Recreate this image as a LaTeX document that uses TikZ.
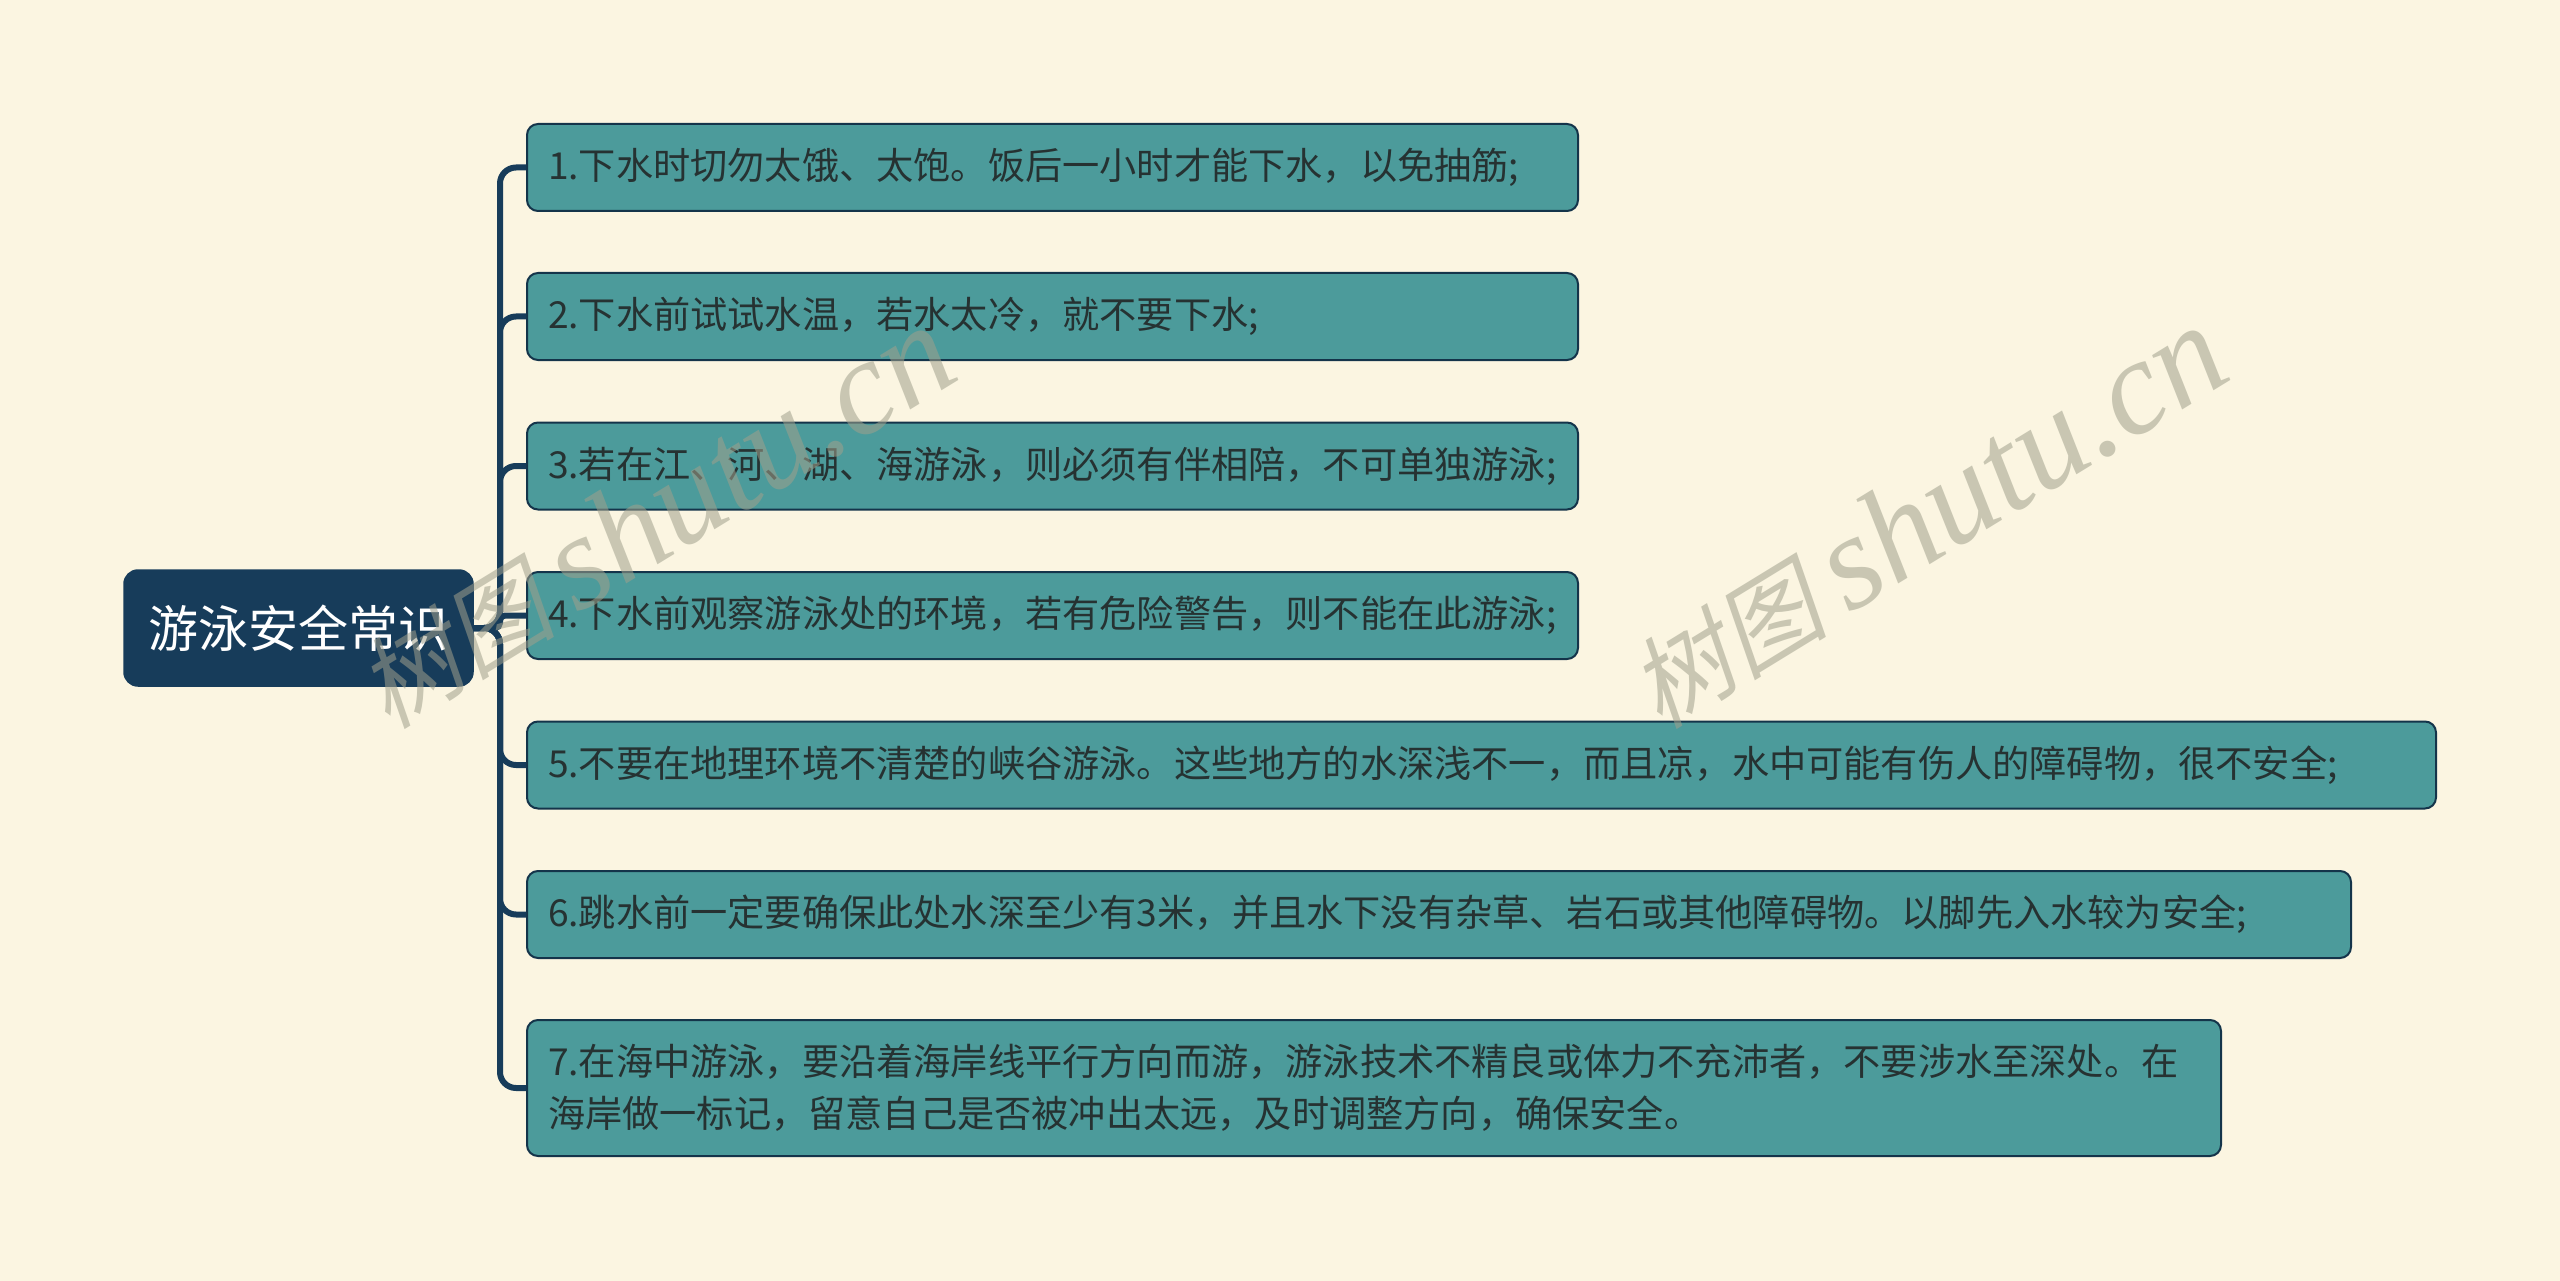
\documentclass[tikz,border=0pt]{standalone}
\usepackage{fontspec}
\setmainfont{Noto Sans CJK SC}
\newfontfamily\wmcjk[FakeSlant=0.22]{Noto Sans CJK SC}
\newfontfamily\wmlat{Liberation Serif Italic}
\definecolor{bg}{RGB}{251,245,225}
\definecolor{navy}{RGB}{23,60,90}
\definecolor{teal}{RGB}{76,155,155}
\definecolor{boxline}{RGB}{20,52,74}
\definecolor{txt}{RGB}{38,50,50}
\definecolor{wm}{RGB}{160,160,140}
\begin{document}
\begin{tikzpicture}[x=1pt,y=-1pt,
  rootbox/.style={draw=navy, fill=navy, rounded corners=14pt, line width=1.5pt,
    minimum width=349pt, minimum height=116pt, inner sep=0pt,
    text=white, font=\fontsize{50}{60}\selectfont},
  leafbox/.style={draw=boxline, fill=teal, rounded corners=11pt, line width=2pt,
    anchor=west, inner xsep=21pt, inner ysep=0pt, align=left, text=txt,
    font=\fontsize{37.2}{52}\selectfont},
  conn/.style={draw=navy, line width=6pt, rounded corners=16pt},
  wmark/.style={text=wm, opacity=0.55, rotate=31.5, inner sep=0pt}
]
\useasboundingbox (0,0) rectangle (2560,1281);
\fill[bg] (0,0) rectangle (2560,1281);

\node[rootbox] (root) at (298.5,628) {游泳安全常识};
\coordinate (sp) at (500,628);

\node[leafbox, text width=1009pt, minimum height=87pt] (c1) at (526,167.5)
  {1.下水时切勿太饿、太饱。饭后一小时才能下水，以免抽筋;};
\node[leafbox, text width=1009pt, minimum height=87pt] (c2) at (526,316.5)
  {2.下水前试试水温，若水太冷，就不要下水;};
\node[leafbox, text width=1009pt, minimum height=87pt] (c3) at (526,466)
  {3.若在江、河、湖、海游泳，则必须有伴相陪，不可单独游泳;};
\node[leafbox, text width=1009pt, minimum height=87pt] (c4) at (526,615.5)
  {4.下水前观察游泳处的环境，若有危险警告，则不能在此游泳;};
\node[leafbox, text width=1867pt, minimum height=87pt] (c5) at (526,765)
  {5.不要在地理环境不清楚的峡谷游泳。这些地方的水深浅不一，而且凉，水中可能有伤人的障碍物，很不安全;};
\node[leafbox, text width=1782pt, minimum height=87pt] (c6) at (526,914.5)
  {6.跳水前一定要确保此处水深至少有3米，并且水下没有杂草、岩石或其他障碍物。以脚先入水较为安全;};
\node[leafbox, text width=1652pt, minimum height=136pt] (c7) at (526,1088)
  {7.在海中游泳，要沿着海岸线平行方向而游，游泳技术不精良或体力不充沛者，不要涉水至深处。在\\海岸做一标记，留意自己是否被冲出太远，及时调整方向，确保安全。};

\draw[conn] (root.east) -- (sp) |- (c1.west);
\draw[conn] (root.east) -- (sp) |- (c2.west);
\draw[conn] (root.east) -- (sp) |- (c3.west);
\draw[conn, rounded corners=5pt] (root.east) -- (sp) |- (c4.west);
\draw[conn] (root.east) -- (sp) |- (c5.west);
\draw[conn] (root.east) -- (sp) |- (c6.west);
\draw[conn] (root.east) -- (sp) |- (c7.west);

\node[wmark] (wm1) at (654,517) {{\wmcjk\fontsize{100}{110}\selectfont 树图}\hspace{22pt}{\wmlat\fontsize{135}{140}\selectfont shutu.cn}};
\node[wmark] (wm2) at (1926,517) {{\wmcjk\fontsize{100}{110}\selectfont 树图}\hspace{22pt}{\wmlat\fontsize{135}{140}\selectfont shutu.cn}};
\end{tikzpicture}
\end{document}
